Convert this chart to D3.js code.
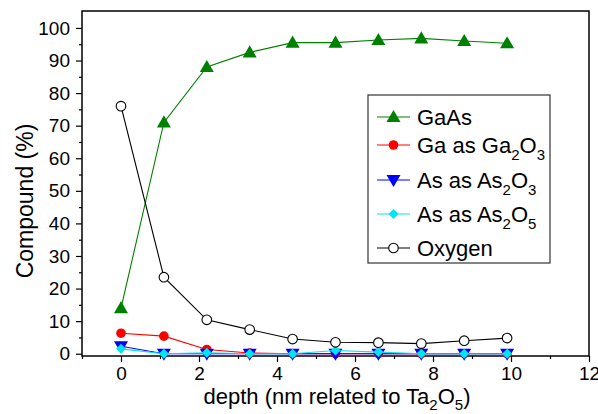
<!DOCTYPE html>
<html>
<head>
<meta charset="utf-8">
<script src="https://cdn.jsdelivr.net/npm/d3@7"></script>
<style>
body { margin: 0; background: #fff; }
text { font-family: "Liberation Sans", Arial, sans-serif; }
</style>
</head>
<body>
<div id="chart"></div>
<script>
var depth = [0, 1.1, 2.2, 3.3, 4.4, 5.5, 6.6, 7.7, 8.8, 9.9];
var gaas = [14, 71, 88, 92.5, 95.5, 95.5, 96.3, 96.8, 96, 95.3];
var ga2o3 = [6.3, 5.4, 1.3, 0.2, 0, 0, 0, 0, 0, 0];
var as2o3 = [2.3, 0, 0, 0, 0, 0, 0, 0, 0, 0];
var as2o5 = [1.5, 0, 0.3, 0, 0, 1.0, 0.5, 0, 0, 0];
var oxygen = [76, 23.5, 10.4, 7.4, 4.5, 3.5, 3.4, 3.1, 4.0, 4.8];
var xTicks = [0, 2, 4, 6, 8, 10, 12];
var yTicks = [0, 10, 20, 30, 40, 50, 60, 70, 80, 90, 100];

var series = [
    { name: "GaAs", sub: null, values: gaas, color: "#008000", marker: "tri" },
    { name: "Ga as Ga", sub: ["2", "O", "3"], values: ga2o3, color: "#ff0000", marker: "circle" },
    { name: "As as As", sub: ["2", "O", "3"], values: as2o3, color: "#0000ff", marker: "tridown" },
    { name: "As as As", sub: ["2", "O", "5"], values: as2o5, color: "#00e5ee", marker: "diamond" },
    { name: "Oxygen", sub: null, values: oxygen, color: "#000000", marker: "open" }
];

var width = 598, height = 414;
var margin = { left: 82, right: 9, top: 11, bottom: 58 };
var w = width - margin.left - margin.right;
var h = height - margin.top - margin.bottom;

var svg = d3.select("#chart").append("svg")
    .attr("width", width)
    .attr("height", height);
var g = svg.append("g")
    .attr("transform", "translate(" + margin.left + "," + margin.top + ")");

var x = d3.scaleLinear().domain([-1, 12]).range([0, w]);
var y = d3.scaleLinear().domain([-0.7, 105.2]).range([h, 0]);

// minor ticks
var xAxisMinor = d3.axisBottom(x).tickValues(d3.range(-1, 12, 2)).tickSize(3).tickFormat("");
var yAxisMinor = d3.axisLeft(y).tickValues(d3.range(5, 105, 10)).tickSize(3).tickFormat("");
g.append("g").attr("transform", "translate(0," + h + ")").call(xAxisMinor);
g.append("g").call(yAxisMinor);

var xAxis = g.append("g")
    .attr("transform", "translate(0," + h + ")")
    .call(d3.axisBottom(x).tickValues(xTicks).tickSize(6).tickPadding(5));
var yAxis = g.append("g")
    .call(d3.axisLeft(y).tickValues(yTicks).tickSize(6).tickPadding(6));

g.selectAll(".domain").remove();
g.selectAll(".tick line").attr("stroke", "#000").attr("stroke-width", 1.2);
g.selectAll(".tick text").attr("font-size", "19px").attr("fill", "#000")
    .attr("font-family", "'Liberation Sans', Arial, sans-serif");

// frame
g.append("rect")
    .attr("width", w).attr("height", h)
    .attr("fill", "none").attr("stroke", "#000").attr("stroke-width", 1.5);

var line = d3.line()
    .x(function (d, i) { return x(depth[i]); })
    .y(function (d) { return y(d); });

function drawMarker(sel, type, color, cx, cy) {
    if (type == "tri") {
        sel.append("path").attr("d", d3.symbol().type(d3.symbolTriangle).size(85)())
            .attr("transform", "translate(" + cx + "," + (cy + 1) + ")").attr("fill", color);
    } else if (type == "tridown") {
        sel.append("path").attr("d", d3.symbol().type(d3.symbolTriangle).size(85)())
            .attr("transform", "translate(" + cx + "," + (cy - 1) + ") rotate(180)").attr("fill", color);
    } else if (type == "circle") {
        sel.append("circle").attr("cx", cx).attr("cy", cy).attr("r", 4.8).attr("fill", color);
    } else if (type == "diamond") {
        sel.append("path").attr("d", d3.symbol().type(d3.symbolSquare).size(50)())
            .attr("transform", "translate(" + cx + "," + cy + ") rotate(45)").attr("fill", color);
    } else {
        sel.append("circle").attr("cx", cx).attr("cy", cy).attr("r", 4.8)
            .attr("fill", "#fff").attr("stroke", color).attr("stroke-width", 1.1);
    }
}

series.forEach(function (s) {
    var sg = g.append("g");
    sg.append("path")
        .datum(s.values)
        .attr("d", line)
        .attr("fill", "none")
        .attr("stroke", s.color)
        .attr("stroke-width", 1.1);
    s.values.forEach(function (v, i) {
        drawMarker(sg, s.marker, s.color, x(depth[i]), y(v));
    });
});

// legend
var lg = svg.append("g").attr("transform", "translate(368,95)");
lg.append("rect").attr("width", 182).attr("height", 168)
    .attr("fill", "#fff").attr("stroke", "#333").attr("stroke-width", 1.2);
var rowY = [22, 50, 85, 119, 153];
series.forEach(function (s, i) {
    var ry = rowY[i];
    lg.append("line").attr("x1", 9).attr("x2", 42).attr("y1", ry).attr("y2", ry)
        .attr("stroke", s.color).attr("stroke-width", 1.1);
    drawMarker(lg, s.marker, s.color, 25.5, ry);
    var t = lg.append("text").attr("x", 49).attr("y", ry + 8)
        .attr("font-size", "22px").attr("fill", "#000");
    t.append("tspan").text(s.name);
    if (s.sub) {
        t.append("tspan").attr("font-size", "15px").attr("dy", 7).text(s.sub[0]);
        t.append("tspan").attr("font-size", "22px").attr("dy", -7).text(s.sub[1]);
        t.append("tspan").attr("font-size", "15px").attr("dy", 7).text(s.sub[2]);
    }
});

// axis titles
var xt = svg.append("text")
    .attr("x", 337)
    .attr("y", 404)
    .attr("text-anchor", "middle")
    .attr("font-size", "22px")
    .attr("fill", "#000");
xt.append("tspan").text("depth (nm related to Ta");
xt.append("tspan").attr("font-size", "15px").attr("dy", 6).text("2");
xt.append("tspan").attr("font-size", "22px").attr("dy", -6).text("O");
xt.append("tspan").attr("font-size", "15px").attr("dy", 6).text("5");
xt.append("tspan").attr("font-size", "22px").attr("dy", -6).text(")");

svg.append("text")
    .attr("transform", "translate(33,201) rotate(-90)")
    .attr("text-anchor", "middle")
    .attr("font-size", "23px")
    .attr("fill", "#000")
    .text("Compound (%)");
</script>
</body>
</html>
